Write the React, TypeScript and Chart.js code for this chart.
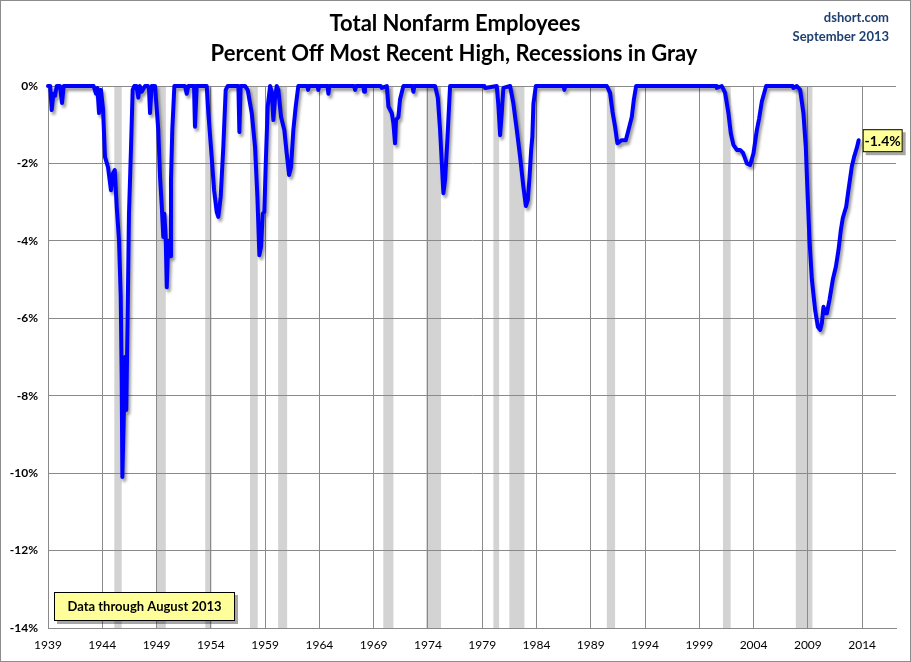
import React, { useEffect, useRef } from "react";
import { Chart, registerables } from "chart.js";

Chart.register(...registerables);

// ---- Data ----
const years = [
  1939.0, 1939.2, 1939.34, 1939.5, 1939.65, 1939.8, 1940.1, 1940.29, 1940.45, 1941.0, 1942.0, 1943.2,
  1943.42, 1943.55, 1943.7, 1943.88, 1944.07, 1944.25, 1944.53, 1944.8, 1944.99, 1945.15, 1945.33,
  1945.54, 1945.7, 1945.79, 1945.85, 1945.98, 1946.09, 1946.21, 1946.34, 1946.46, 1946.65, 1946.8,
  1946.95, 1947.15, 1947.32, 1947.45, 1947.63, 1947.94, 1948.2, 1948.31, 1948.4, 1948.55, 1948.86,
  1949.16, 1949.32, 1949.48, 1949.62, 1949.72, 1949.84, 1949.94, 1950.08, 1950.24, 1950.33, 1950.45,
  1950.64, 1951.62, 1951.78, 1951.93, 1952.45, 1952.54, 1952.7, 1953.62, 1953.77, 1954.08, 1954.3,
  1954.54, 1954.69, 1954.91, 1955.15, 1955.37, 1955.56, 1956.54, 1956.63, 1956.75, 1957.15, 1957.4,
  1957.55, 1957.77, 1958.07, 1958.29, 1958.47, 1958.63, 1958.78, 1958.93, 1959.06, 1959.24, 1959.46,
  1959.61, 1959.76, 1959.92, 1960.07, 1960.22, 1960.47, 1960.77, 1960.99, 1961.21, 1961.39, 1961.6,
  1961.82, 1962.06, 1962.9, 1962.96, 1963.05, 1963.85, 1963.9, 1964.0, 1964.75, 1964.83, 1964.92,
  1967.2, 1967.29, 1967.4, 1968.05, 1968.12, 1968.2, 1969.65, 1969.75, 1970.21, 1970.36, 1970.67,
  1970.82, 1970.97, 1971.06, 1971.28, 1971.43, 1971.74, 1972.58, 1972.66, 1972.75, 1974.66, 1974.91,
  1975.12, 1975.28, 1975.42, 1975.58, 1975.79, 1976.04, 1979.2, 1979.27, 1980.34, 1980.49, 1980.65,
  1980.8, 1980.95, 1981.57, 1981.87, 1982.19, 1982.49, 1982.79, 1983.02, 1983.2, 1983.35, 1983.51,
  1983.62, 1983.72, 1983.94, 1986.5, 1986.57, 1986.65, 1990.48, 1990.78, 1991.0, 1991.24, 1991.45,
  1991.86, 1992.23, 1992.47, 1992.78, 1992.97, 1993.18, 2000.55, 2000.61, 2001.07, 2001.38, 2001.68,
  2001.9, 2002.14, 2002.46, 2002.76, 2003.01, 2003.16, 2003.38, 2003.68, 2003.99, 2004.3, 2004.51,
  2004.76, 2005.16, 2007.6, 2007.67, 2007.98, 2008.29, 2008.59, 2008.81, 2008.96, 2009.15, 2009.37,
  2009.67, 2009.92, 2010.13, 2010.29, 2010.44, 2010.59, 2010.75, 2010.99, 2011.3, 2011.58, 2011.82,
  2012.04, 2012.22, 2012.53, 2012.74, 2013.05, 2013.26, 2013.51, 2013.68,
];

const pctOffHigh = [
  0, 0, -0.62, -0.2, -0.25, 0, 0, -0.44, 0, 0, 0, 0,
  -0.2, -0.05, -0.7, -0.1, -0.6, -1.83, -2.1, -2.69, -2.25, -2.17, -3.12,
  -3.98, -5.44, -7.6, -10.1, -8.55, -7.0, -8.37, -5.87, -3.3, -1.57, -0.1,
  0, 0, -0.3, 0, -0.15, 0, 0, -0.1, -0.7, 0, 0,
  -1.14, -2.34, -3.1, -3.9, -3.3, -3.9, -5.2, -4.0, -4.4, -2.43, -1.14,
  0, 0, -0.2, 0, 0, -1.05, 0, 0, -0.7, -1.83, -2.69,
  -3.25, -3.38, -2.86, -1.57, -0.1, 0, 0, -1.19, 0, 0, -0.1,
  -0.35, -0.7, -1.57, -2.86, -4.37, -4.15, -3.3, -3.25, -2.0, -0.53, 0,
  -0.15, -0.88, -0.3, 0, -0.1, -0.8, -1.14, -1.74, -2.3, -2.1, -1.14,
  -0.53, 0, 0, -0.1, 0, 0, -0.1, 0, 0, -0.2, 0,
  0, -0.1, 0, 0, -0.15, 0, 0, -0.05, 0, -0.53, -0.7,
  -0.97, -1.48, -0.88, -0.8, -0.35, 0, 0, -0.15, 0, 0, -0.3,
  -1.14, -2.0, -2.77, -2.43, -1.4, 0, 0, -0.05, 0, -0.5, -1.27,
  -0.7, -0.05, 0, -0.45, -1.14, -1.83, -2.6, -3.1, -2.95, -2.4, -1.65,
  -1.31, -0.45, 0, 0, -0.1, 0, 0, -0.18, -0.66, -1.05, -1.48,
  -1.4, -1.4, -1.14, -0.8, -0.35, 0, 0, -0.05, 0, -0.18, -0.7,
  -1.22, -1.52, -1.65, -1.65, -1.72, -1.83, -2.0, -2.04, -1.74, -1.14, -0.84,
  -0.4, 0, 0, -0.05, 0, -0.1, -0.7, -1.57, -2.69, -3.98, -5.0,
  -5.79, -6.22, -6.3, -6.13, -5.7, -5.87, -5.87, -5.53, -5.0, -4.67, -4.24,
  -3.72, -3.41, -3.12, -2.69, -2.08, -1.83, -1.6, -1.4,
];

const recessionStart = [1945.11, 1949.02, 1953.49, 1957.61, 1960.2, 1969.89, 1973.83, 1980.03, 1981.5, 1990.48, 2001.18, 2007.89];
const recessionEnd = [1945.79, 1949.85, 1954.08, 1958.32, 1961.03, 1970.82, 1975.21, 1980.56, 1982.89, 1991.24, 2001.89, 2009.42];

const xTickYears = [1939, 1944, 1949, 1954, 1959, 1964, 1969, 1974, 1979, 1984, 1989, 1994, 1999, 2004, 2009, 2014];
const yTickValues = [0, -2, -4, -6, -8, -10, -12, -14];

const titleLines = ["Total Nonfarm Employees", "Percent Off Most Recent High, Recessions in Gray"];
const sourceLines = ["dshort.com", "September 2013"];
const noteText = "Data through August 2013";

const FONT = "Lato, 'Open Sans', sans-serif";

const decorPlugin = {
  id: "decor",
  beforeDraw(chart: any) {
    const { ctx, chartArea: a, scales } = chart;
    const xs = scales.x;
    ctx.save();
    ctx.fillStyle = "#ffffff";
    ctx.fillRect(0, 0, chart.width, chart.height);
    ctx.fillStyle = "#d3d3d3";
    recessionStart.forEach((s, i) => {
      const x0 = xs.getPixelForValue(s);
      const x1 = xs.getPixelForValue(recessionEnd[i]);
      ctx.fillRect(x0, a.top, x1 - x0, a.bottom - a.top);
    });
    ctx.restore();
  },
  afterDraw(chart: any) {
    const { ctx, scales } = chart;
    ctx.save();
    // Titles
    ctx.fillStyle = "#000";
    ctx.textAlign = "center";
    ctx.textBaseline = "middle";
    ctx.font = `bold 22px ${FONT}`;
    ctx.fillText(titleLines[0], 455, 24);
    ctx.fillText(titleLines[1], 454, 54);
    // Source
    ctx.fillStyle = "#1f3f6e";
    ctx.textAlign = "right";
    ctx.font = `bold 13px ${FONT}`;
    ctx.fillText(sourceLines[0], 889, 18);
    ctx.fillText(sourceLines[1], 889, 37);

    const drawBox = (x: number, y: number, w: number, h: number) => {
      ctx.fillStyle = "rgba(0,0,0,0.35)";
      ctx.fillRect(x + 3, y + 3, w, h);
      ctx.fillStyle = "#ffff99";
      ctx.fillRect(x, y, w, h);
      ctx.strokeStyle = "#000";
      ctx.lineWidth = 1;
      ctx.strokeRect(x + 0.5, y + 0.5, w - 1, h - 1);
    };
    // Note box
    drawBox(54, 592, 181, 29);
    ctx.fillStyle = "#000";
    ctx.textAlign = "center";
    ctx.font = `bold 13px ${FONT}`;
    ctx.fillText(noteText, 54 + 181 / 2, 607);

    // Last value label
    const lastX = scales.x.getPixelForValue(years[years.length - 1]);
    const lastV = pctOffHigh[pctOffHigh.length - 1];
    const lastY = scales.y.getPixelForValue(lastV);
    const bx = lastX + 4;
    const by = lastY - 11;
    drawBox(bx, by, 40, 23);
    ctx.fillStyle = "#000";
    ctx.font = `bold 14px ${FONT}`;
    ctx.fillText(`${lastV.toFixed(1)}%`, bx + 20, by + 12);

    // Outer border
    ctx.strokeStyle = "#8c8c8c";
    ctx.lineWidth = 1;
    ctx.strokeRect(0.5, 0.5, chart.width - 1, chart.height - 1);
    ctx.restore();
  },
};

const shadowPlugin = {
  id: "lineShadow",
  beforeDatasetDraw(chart: any) {
    const ctx = chart.ctx;
    ctx.save();
    ctx.shadowColor = "rgba(0,0,0,0.4)";
    ctx.shadowBlur = 3;
    ctx.shadowOffsetX = 2;
    ctx.shadowOffsetY = 3;
  },
  afterDatasetDraw(chart: any) {
    chart.ctx.restore();
  },
};

export default function App() {
  const canvasRef = useRef<HTMLCanvasElement | null>(null);

  useEffect(() => {
    if (!canvasRef.current) return;
    const points = years.map((yr, i) => ({ x: yr, y: pctOffHigh[i] }));
    const chart = new Chart(canvasRef.current, {
      type: "line",
      data: {
        datasets: [
          {
            label: "Percent Off Most Recent High",
            data: points,
            borderColor: "#0000ff",
            borderWidth: 4,
            borderJoinStyle: "round",
            borderCapStyle: "round",
            pointRadius: 0,
            tension: 0,
            fill: false,
            clip: 6,
          },
        ],
      },
      options: {
        responsive: false,
        animation: false,
        layout: { padding: { top: 86, right: 15, left: 0, bottom: 0 } },
        plugins: {
          legend: { display: false },
          title: { display: false },
          tooltip: { enabled: false },
        },
        scales: {
          x: {
            type: "linear",
            min: 1939,
            max: 2017.12,
            afterBuildTicks: (scale: any) => {
              scale.ticks = xTickYears.map((v) => ({ value: v }));
            },
            afterFit: (scale: any) => {
              scale.height = 34;
            },
            grid: { color: "#8a8a8a", drawTicks: false, lineWidth: 1 },
            border: { display: true, color: "#8a8a8a" },
            ticks: {
              autoSkip: false,
              maxRotation: 0,
              padding: 10,
              color: "#000",
              font: { family: FONT, size: 12 },
              callback: (v: any) => String(v),
            },
          },
          y: {
            type: "linear",
            min: -14,
            max: 0,
            afterBuildTicks: (scale: any) => {
              scale.ticks = yTickValues.map((v) => ({ value: v }));
            },
            afterFit: (scale: any) => {
              scale.width = 48;
            },
            grid: { color: "#8a8a8a", drawTicks: false, lineWidth: 1 },
            border: { display: true, color: "#8a8a8a" },
            ticks: {
              padding: 10,
              color: "#000",
              font: { family: FONT, size: 12, weight: "bold" },
              callback: (v: any) => `${v}%`,
            },
          },
        },
      },
      plugins: [decorPlugin, shadowPlugin],
    });
    return () => chart.destroy();
  }, []);

  return (
    <div style={{ position: "fixed", left: 0, top: 0, width: 911, height: 662 }}>
      <canvas ref={canvasRef} width={911} height={662} />
    </div>
  );
}
